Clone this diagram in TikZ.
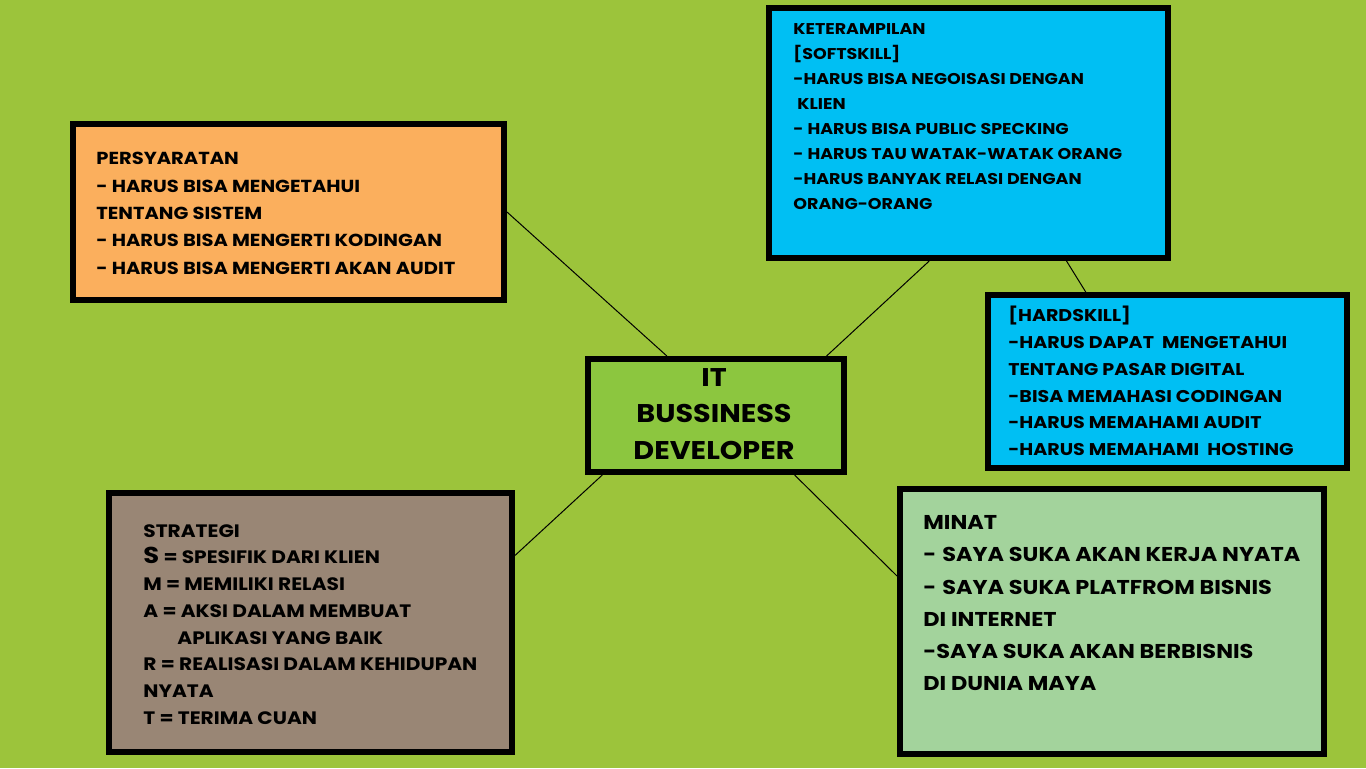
\documentclass[tikz,border=0pt]{standalone}
\usepackage{fontspec}
\setmainfont{Poppins}[FakeStretch=1.12]
\usetikzlibrary{calc}
\definecolor{bggreen}{HTML}{9CC43B}
\definecolor{persyorange}{HTML}{FBAF5D}
\definecolor{skillblue}{HTML}{00BFF3}
\definecolor{devgreen}{HTML}{8CC63F}
\definecolor{stratbrown}{HTML}{998675}
\definecolor{minatgreen}{HTML}{A3D39C}

\begin{document}
\begin{tikzpicture}[x=0.5pt,y=-0.5pt,
  box/.style={draw=black,line width=3pt,inner sep=0pt},
  txt/.style={anchor=north west,inner sep=0pt,align=left},
  conn/.style={draw=black,line width=0.5pt}]
  \fill[bggreen] (0,0) rectangle (1366,768);
  \node[box,fill=persyorange,minimum width=215.5pt,minimum height=88pt] (persy) at (288.5,212) {};
  \node[box,fill=skillblue,minimum width=199.5pt,minimum height=125pt] (soft) at (968.5,133) {};
  \node[box,fill=skillblue,minimum width=179.5pt,minimum height=86.5pt] (hard) at (1167.5,381.5) {};
  \node[box,fill=devgreen,minimum width=128pt,minimum height=56.5pt] (dev) at (716,415.5) {};
  \node[box,fill=stratbrown,minimum width=201.5pt,minimum height=129.5pt] (strat) at (310.5,622.5) {};
  \node[box,fill=minatgreen,minimum width=212pt,minimum height=132.5pt] (minat) at (1112,621.5) {};
  \draw[conn] (persy.east) -- ($(dev.north west)!0.3125!(dev.north east)$);
  \draw[conn] ($(soft.south west)!0.403!(soft.south east)$) -- ($(dev.north west)!0.922!(dev.north east)$);
  \draw[conn] ($(soft.south west)!0.742!(soft.south east)$) -- ($(hard.north west)!0.276!(hard.north east)$);
  \draw[conn] ($(strat.north east)!0.247!(strat.south east)$) -- ($(dev.south west)!0.066!(dev.south east)$);
  \draw[conn] ($(minat.north west)!0.332!(minat.south west)$) -- ($(dev.south west)!0.8!(dev.south east)$);
  \node[txt,font=\bfseries\fontsize{8.7}{13.65}\selectfont] (persytext) at (96,152)
    {PERSYARATAN\\- HARUS BISA MENGETAHUI\\TENTANG SISTEM\\- HARUS BISA MENGERTI KODINGAN\\- HARUS BISA MENGERTI AKAN AUDIT};
  \node[txt,font=\bfseries\fontsize{7.8}{12.5}\selectfont] (softtext) at (793,23)
    {KETERAMPILAN\\{[}SOFTSKILL{]}\\-HARUS BISA NEGOISASI DENGAN\\\hspace*{2pt}KLIEN\\-\hspace{2pt}HARUS BISA PUBLIC SPECKING\\-\hspace{2pt}HARUS TAU WATAK-WATAK ORANG\\-HARUS BANYAK RELASI DENGAN\\ORANG-ORANG};
  \node[txt,font=\bfseries\fontsize{8.5}{13.35}\selectfont] (hardtext) at (1008,306)
    {{[}HARDSKILL{]}\\-HARUS DAPAT\ \ MENGETAHUI\\TENTANG PASAR DIGITAL\\-BISA MEMAHASI CODINGAN\\-HARUS MEMAHAMI AUDIT\\-HARUS MEMAHAMI\ \ HOSTING};
  \node[align=center,inner sep=0pt,font=\bfseries\fontsize{12.8}{18.25}\selectfont] (devtext) at (714,414)
    {IT\\BUSSINESS\\DEVELOPER};
  \node[txt,font=\bfseries\fontsize{9}{13.35}\selectfont] (strattext) at (143,524)
    {STRATEGI\\{\fontsize{11.5}{13.35}\selectfont S} = SPESIFIK DARI KLIEN\\M = MEMILIKI RELASI\\A = AKSI DALAM MEMBUAT\\\hspace*{17pt}APLIKASI YANG BAIK\\R = REALISASI DALAM KEHIDUPAN\\NYATA\\T = TERIMA CUAN};
  \node[txt,font=\bfseries\fontsize{10}{16.15}\selectfont] (minattext) at (923,515)
    {MINAT\\-\hspace{3pt}SAYA SUKA AKAN KERJA NYATA\\-\hspace{3pt}SAYA SUKA PLATFROM BISNIS\\DI INTERNET\\-SAYA SUKA AKAN BERBISNIS\\DI DUNIA MAYA};
\end{tikzpicture}
\end{document}
